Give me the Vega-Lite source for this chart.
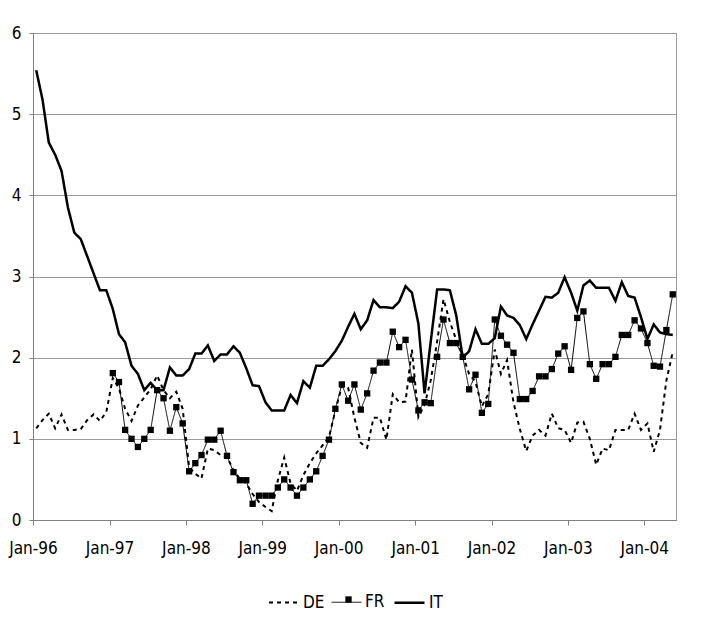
{
  "$schema": "https://vega.github.io/schema/vega-lite/v6.json",
  "width": 643,
  "height": 487,
  "autosize": {"type": "none"},
  "padding": {"left": 33, "top": 33, "right": 48, "bottom": 106},
  "background": "white",
  "config": {
    "view": {"stroke": "#9a9a9a", "strokeWidth": 1},
    "font": "DejaVu Sans Condensed",
    "axis": {"labelFont": "DejaVu Sans Condensed", "labelFontSize": 17, "labelColor": "#000"},
    "legend": {"labelFont": "DejaVu Sans Condensed", "labelFontSize": 17, "labelColor": "#000"}
  },
  "data": {
    "values": [
      {"m":"1996-01-01","DE":1.13,"IT":5.54},
      {"m":"1996-02-01","DE":1.23,"IT":5.18},
      {"m":"1996-03-01","DE":1.31,"IT":4.65},
      {"m":"1996-04-01","DE":1.13,"IT":4.50},
      {"m":"1996-05-01","DE":1.30,"IT":4.30},
      {"m":"1996-06-01","DE":1.11,"IT":3.85},
      {"m":"1996-07-01","DE":1.11,"IT":3.54},
      {"m":"1996-08-01","DE":1.12,"IT":3.46},
      {"m":"1996-09-01","DE":1.23,"IT":3.25},
      {"m":"1996-10-01","DE":1.30,"IT":3.04},
      {"m":"1996-11-01","DE":1.22,"IT":2.83},
      {"m":"1996-12-01","DE":1.33,"IT":2.83},
      {"m":"1997-01-01","DE":1.75,"FR":1.81,"IT":2.60},
      {"m":"1997-02-01","DE":1.62,"FR":1.70,"IT":2.29},
      {"m":"1997-03-01","DE":1.37,"FR":1.11,"IT":2.19},
      {"m":"1997-04-01","DE":1.22,"FR":1.00,"IT":1.90},
      {"m":"1997-05-01","DE":1.41,"FR":0.90,"IT":1.80},
      {"m":"1997-06-01","DE":1.51,"FR":1.00,"IT":1.60},
      {"m":"1997-07-01","DE":1.61,"FR":1.11,"IT":1.69},
      {"m":"1997-08-01","DE":1.78,"FR":1.60,"IT":1.60},
      {"m":"1997-09-01","DE":1.60,"FR":1.50,"IT":1.60},
      {"m":"1997-10-01","DE":1.50,"FR":1.10,"IT":1.88},
      {"m":"1997-11-01","DE":1.58,"FR":1.39,"IT":1.78},
      {"m":"1997-12-01","DE":1.37,"FR":1.19,"IT":1.78},
      {"m":"1998-01-01","DE":0.65,"FR":0.60,"IT":1.86},
      {"m":"1998-02-01","DE":0.57,"FR":0.70,"IT":2.05},
      {"m":"1998-03-01","DE":0.51,"FR":0.80,"IT":2.05},
      {"m":"1998-04-01","DE":0.88,"FR":0.99,"IT":2.15},
      {"m":"1998-05-01","DE":0.86,"FR":0.99,"IT":1.96},
      {"m":"1998-06-01","DE":0.80,"FR":1.10,"IT":2.04},
      {"m":"1998-07-01","DE":0.78,"FR":0.79,"IT":2.04},
      {"m":"1998-08-01","DE":0.61,"FR":0.59,"IT":2.14},
      {"m":"1998-09-01","DE":0.51,"FR":0.49,"IT":2.06},
      {"m":"1998-10-01","DE":0.45,"FR":0.49,"IT":1.87},
      {"m":"1998-11-01","DE":0.32,"FR":0.20,"IT":1.66},
      {"m":"1998-12-01","DE":0.22,"FR":0.30,"IT":1.65},
      {"m":"1999-01-01","DE":0.16,"FR":0.30,"IT":1.45},
      {"m":"1999-02-01","DE":0.11,"FR":0.30,"IT":1.35},
      {"m":"1999-03-01","DE":0.49,"FR":0.40,"IT":1.35},
      {"m":"1999-04-01","DE":0.77,"FR":0.50,"IT":1.35},
      {"m":"1999-05-01","DE":0.45,"FR":0.40,"IT":1.54},
      {"m":"1999-06-01","DE":0.36,"FR":0.30,"IT":1.44},
      {"m":"1999-07-01","DE":0.55,"FR":0.40,"IT":1.71},
      {"m":"1999-08-01","DE":0.70,"FR":0.50,"IT":1.63},
      {"m":"1999-09-01","DE":0.82,"FR":0.60,"IT":1.90},
      {"m":"1999-10-01","DE":0.92,"FR":0.79,"IT":1.90},
      {"m":"1999-11-01","DE":1.02,"FR":0.99,"IT":1.98},
      {"m":"1999-12-01","DE":1.35,"FR":1.37,"IT":2.08},
      {"m":"2000-01-01","DE":1.65,"FR":1.67,"IT":2.21},
      {"m":"2000-02-01","DE":1.63,"FR":1.47,"IT":2.38},
      {"m":"2000-03-01","DE":1.26,"FR":1.67,"IT":2.54},
      {"m":"2000-04-01","DE":0.95,"FR":1.36,"IT":2.35},
      {"m":"2000-05-01","DE":0.89,"FR":1.56,"IT":2.46},
      {"m":"2000-06-01","DE":1.26,"FR":1.84,"IT":2.71},
      {"m":"2000-07-01","DE":1.26,"FR":1.94,"IT":2.62},
      {"m":"2000-08-01","DE":0.99,"FR":1.94,"IT":2.62},
      {"m":"2000-09-01","DE":1.55,"FR":2.32,"IT":2.61},
      {"m":"2000-10-01","DE":1.45,"FR":2.13,"IT":2.69},
      {"m":"2000-11-01","DE":1.46,"FR":2.22,"IT":2.88},
      {"m":"2000-12-01","DE":2.10,"FR":1.73,"IT":2.80},
      {"m":"2001-01-01","DE":1.27,"FR":1.35,"IT":2.42},
      {"m":"2001-02-01","DE":1.42,"FR":1.45,"IT":1.56},
      {"m":"2001-03-01","DE":1.72,"FR":1.44,"IT":2.20},
      {"m":"2001-04-01","DE":2.20,"FR":2.01,"IT":2.84},
      {"m":"2001-05-01","DE":2.72,"FR":2.47,"IT":2.84},
      {"m":"2001-06-01","DE":2.44,"FR":2.18,"IT":2.83},
      {"m":"2001-07-01","DE":2.22,"FR":2.18,"IT":2.52},
      {"m":"2001-08-01","DE":2.03,"FR":2.01,"IT":2.00},
      {"m":"2001-09-01","DE":1.80,"FR":1.61,"IT":2.08},
      {"m":"2001-10-01","DE":1.70,"FR":1.79,"IT":2.35},
      {"m":"2001-11-01","DE":1.40,"FR":1.32,"IT":2.17},
      {"m":"2001-12-01","DE":1.55,"FR":1.43,"IT":2.17},
      {"m":"2002-01-01","DE":2.10,"FR":2.47,"IT":2.24},
      {"m":"2002-02-01","DE":1.80,"FR":2.27,"IT":2.63},
      {"m":"2002-03-01","DE":1.97,"FR":2.16,"IT":2.52},
      {"m":"2002-04-01","DE":1.45,"FR":2.06,"IT":2.49},
      {"m":"2002-05-01","DE":1.12,"FR":1.49,"IT":2.40},
      {"m":"2002-06-01","DE":0.85,"FR":1.49,"IT":2.23},
      {"m":"2002-07-01","DE":1.04,"FR":1.59,"IT":2.41},
      {"m":"2002-08-01","DE":1.11,"FR":1.77,"IT":2.58},
      {"m":"2002-09-01","DE":1.04,"FR":1.77,"IT":2.75},
      {"m":"2002-10-01","DE":1.31,"FR":1.86,"IT":2.74},
      {"m":"2002-11-01","DE":1.13,"FR":2.05,"IT":2.80},
      {"m":"2002-12-01","DE":1.11,"FR":2.14,"IT":2.99},
      {"m":"2003-01-01","DE":0.95,"FR":1.85,"IT":2.80},
      {"m":"2003-02-01","DE":1.20,"FR":2.49,"IT":2.58},
      {"m":"2003-03-01","DE":1.21,"FR":2.57,"IT":2.89},
      {"m":"2003-04-01","DE":1.00,"FR":1.92,"IT":2.95},
      {"m":"2003-05-01","DE":0.68,"FR":1.74,"IT":2.86},
      {"m":"2003-06-01","DE":0.88,"FR":1.92,"IT":2.86},
      {"m":"2003-07-01","DE":0.86,"FR":1.92,"IT":2.86},
      {"m":"2003-08-01","DE":1.11,"FR":2.01,"IT":2.70},
      {"m":"2003-09-01","DE":1.11,"FR":2.28,"IT":2.93},
      {"m":"2003-10-01","DE":1.11,"FR":2.28,"IT":2.76},
      {"m":"2003-11-01","DE":1.31,"FR":2.46,"IT":2.74},
      {"m":"2003-12-01","DE":1.11,"FR":2.36,"IT":2.50},
      {"m":"2004-01-01","DE":1.19,"FR":2.18,"IT":2.23},
      {"m":"2004-02-01","DE":0.84,"FR":1.90,"IT":2.41},
      {"m":"2004-03-01","DE":1.11,"FR":1.89,"IT":2.31},
      {"m":"2004-04-01","DE":1.72,"FR":2.34,"IT":2.29},
      {"m":"2004-05-01","DE":2.07,"FR":2.78,"IT":2.28}
    ]
  },
  "transform": [
    {"fold": ["DE", "FR", "IT"], "as": ["series", "value"]},
    {"filter": "isValid(datum.value)"}
  ],
  "encoding": {
    "x": {
      "field": "m", "timeUnit": "utcyearmonth", "type": "temporal", "bandPosition": 0.5,
      "scale": {"domain": [{"year": 1996, "month": 1, "date": 1, "utc": true}, {"year": 2004, "month": 6, "date": 1, "utc": true}]},
      "axis": {
        "title": null, "labelExpr": "utcFormat(datum.value, '%b-%y')",
        "tickCount": {"interval": "year", "step": 1},
        "grid": false, "domainColor": "#808080", "tickColor": "#808080", "tickSize": 5,
        "labelPadding": 15, "labelAlign": "center", "labelFlush": false, "labelOverlap": false
      }
    },
    "y": {
      "field": "value", "type": "quantitative",
      "scale": {"domain": [0, 6], "nice": false},
      "axis": {
        "title": null, "values": [0, 1, 2, 3, 4, 5, 6], "format": "d",
        "grid": true, "gridColor": "#9a9a9a", "domainColor": "#808080", "tickColor": "#808080",
        "tickSize": 4, "labelPadding": 8
      }
    }
  },
  "layer": [
    {
      "mark": {"type": "line", "color": "black", "clip": true},
      "encoding": {
        "detail": {"field": "series"},
        "strokeDash": {
          "field": "series", "type": "nominal",
          "scale": {"domain": ["DE", "FR", "IT"], "range": [[4, 4], [1, 0], [1, 0]]},
          "legend": {
            "title": null, "orient": "none", "legendX": 235, "legendY": 553, "direction": "horizontal",
            "symbolType": "stroke", "symbolSize": 900, "symbolStrokeColor": "black",
            "columnPadding": 4, "labelOffset": 3
          }
        },
        "strokeWidth": {
          "field": "series", "type": "nominal",
          "scale": {"type": "ordinal", "domain": ["DE", "FR", "IT"], "range": [2, 1, 2.5]},
          "legend": null
        }
      }
    },
    {
      "transform": [{"filter": "datum.series === 'FR'"}],
      "mark": {"type": "point", "color": "black", "filled": true, "size": 40, "opacity": 1},
      "encoding": {
        "shape": {
          "field": "series", "type": "nominal",
          "scale": {"domain": ["FR"], "range": ["square"]},
          "legend": {
            "title": null, "orient": "none", "legendX": 307, "legendY": 558,
            "symbolFillColor": "black", "symbolStrokeColor": "black", "symbolOpacity": 1,
            "symbolSize": 40, "labelExpr": "''", "labelOpacity": 0
          }
        }
      }
    }
  ]
}
